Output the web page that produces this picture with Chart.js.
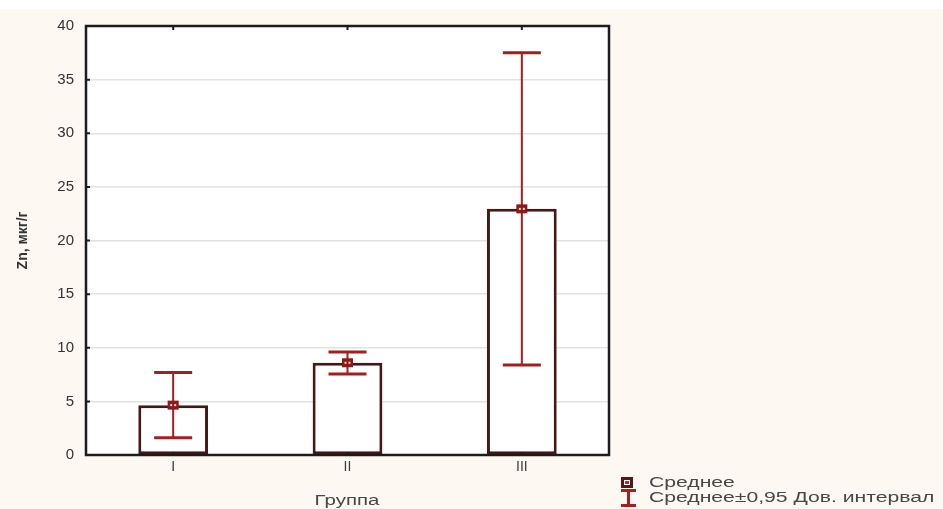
<!DOCTYPE html>
<html>
<head>
<meta charset="utf-8">
<script src="https://cdn.jsdelivr.net/npm/chart.js@4.4.1/dist/chart.umd.min.js"></script>
<style>
  html, body { margin: 0; padding: 0; background: #fdf8f1; }
  #wrap { position: relative; width: 943px; height: 509px; overflow: hidden; }
  #topband { position: absolute; left: 0; top: 0; width: 943px; height: 9px; background: #fff; }
  canvas { position: absolute; left: 0; top: 0; }
  .txt { position: absolute; font: 14px 'Liberation Sans', Arial, sans-serif; color: #474747;
         line-height: 16px; white-space: nowrap; transform-origin: left center; transform: scaleX(1.51); }
  #xtitle { left: 347px; top: 492px; transform-origin: center center; transform: translateX(-50%) scaleX(1.46); }
  .sym-mean { position: absolute; left: 621px; top: 477px; width: 12px; height: 11px; background: #5c1616; }
  .sym-mean div { position: absolute; left: 3px; top: 3px; width: 4px; height: 3px; background: #b03030; border: 1px solid #fff; }
  .sym-ci { position: absolute; left: 621px; top: 489px; width: 15px; height: 18px; }
  .sym-ci div { position: absolute; background: #a52020; }
</style>
</head>
<body>
<div id="wrap">
  <div id="topband"></div>
  <canvas id="grafico" width="943" height="509"></canvas>
  <div class="txt" id="xtitle">Группа</div>
  <div class="sym-mean"><div></div></div>
  <div class="txt" style="left:649px; top:474px;">Среднее</div>
  <div class="sym-ci">
    <div style="left:0; top:0; width:15px; height:3px;"></div>
    <div style="left:6px; top:0; width:3px; height:18px;"></div>
    <div style="left:0; bottom:0; width:15px; height:3px;"></div>
  </div>
  <div class="txt" style="left:649px; top:489px;">Среднее±0,95 Дов. интервал</div>
</div>
<script>
// Группы и значения Zn (мкг/г): среднее и границы 95% дов. интервала
const grupos = ['I', 'II', 'III'];
const medias = [4.65, 8.6, 22.95];
const icInferior = [1.6, 7.55, 8.4];
const icSuperior = [7.7, 9.6, 37.5];
const ticksY = [0, 5, 10, 15, 20, 25, 30, 35, 40];

const corBarra = '#451717';
const corErro = '#a02020';
const corMedia = '#8b1a1a';

// fundo branco da área do gráfico, barras de erro, marcadores e moldura
const molduraPlugin = {
    id: 'moldura',
    beforeDraw(chart) {
        const { ctx, chartArea: a } = chart;
        ctx.save();
        ctx.fillStyle = '#fff';
        ctx.fillRect(a.left, a.top, a.width, a.height);
        ctx.restore();
    },
    afterDatasetsDraw(chart) {
        const { ctx } = chart;
        const x = chart.scales.x, y = chart.scales.y;
        ctx.save();
        grupos.forEach((g, i) => {
            const px = x.getPixelForValue(i);
            const yLo = y.getPixelForValue(icInferior[i]);
            const yHi = y.getPixelForValue(icSuperior[i]);
            const yM = y.getPixelForValue(medias[i]);
            ctx.strokeStyle = corErro;
            ctx.lineWidth = 2;
            ctx.beginPath();
            ctx.moveTo(px, yLo);
            ctx.lineTo(px, yHi);
            ctx.stroke();
            ctx.lineWidth = 3;
            ctx.beginPath();
            ctx.moveTo(px - 19, yHi); ctx.lineTo(px + 19, yHi);
            ctx.moveTo(px - 19, yLo); ctx.lineTo(px + 19, yLo);
            ctx.stroke();
            ctx.fillStyle = corMedia;
            ctx.fillRect(px - 5.5, yM - 4.5, 11, 9);
            ctx.fillStyle = '#f3d6d6';
            ctx.fillRect(px - 3, yM - 1, 2, 2);
            ctx.fillRect(px + 1, yM - 1, 2, 2);
        });
        ctx.restore();
    },
    afterDraw(chart) {
        const { ctx, chartArea: a } = chart;
        const x = chart.scales.x, y = chart.scales.y;
        ctx.save();
        ctx.strokeStyle = '#1c1c1c';
        ctx.lineWidth = 2;
        ctx.beginPath();
        ticksY.forEach(v => {
            const py = y.getPixelForValue(v);
            ctx.moveTo(a.left, py); ctx.lineTo(a.left + 4, py);
        });
        grupos.forEach((g, i) => {
            const px = x.getPixelForValue(i);
            ctx.moveTo(px, a.bottom); ctx.lineTo(px, a.bottom - 3);
            ctx.moveTo(px, a.top); ctx.lineTo(px, a.top + 4);
        });
        ctx.stroke();
        ctx.lineWidth = 2.5;
        ctx.strokeRect(a.left, a.top, a.width, a.height);
        ctx.restore();
    }
};

const fonteEixo = { family: "'Liberation Sans', Arial, sans-serif", size: 15 };

new Chart(document.getElementById('grafico').getContext('2d'), {
    type: 'bar',
    data: {
        labels: grupos,
        datasets: [{
            label: 'Среднее',
            data: medias,
            backgroundColor: '#fff',
            borderColor: corBarra,
            borderWidth: 3,
            borderSkipped: false,
            barPercentage: 0.4,
            categoryPercentage: 1
        }]
    },
    options: {
        responsive: false,
        animation: false,
        layout: { padding: { left: 15, top: 26, right: 334, bottom: 0 } },
        plugins: {
            legend: { display: false },
            tooltip: { enabled: false }
        },
        scales: {
            x: {
                grid: { display: false, drawTicks: false },
                border: { display: false },
                ticks: { color: '#3a3a3a', font: { family: "'Liberation Sans', Arial, sans-serif", size: 14 }, padding: 4 },
                afterFit(s) { s.height = 54; }
            },
            y: {
                min: 0,
                max: 40,
                afterBuildTicks(s) { s.ticks = ticksY.map(v => ({ value: v })); },
                grid: { color: '#e2e2e2', lineWidth: 1.5, drawTicks: false },
                border: { display: false },
                ticks: { color: '#333', font: fonteEixo, padding: 12 },
                title: {
                    display: true,
                    text: 'Zn, мкг/г',
                    color: '#333',
                    font: { family: "'Liberation Sans', Arial, sans-serif", size: 14, weight: 'bold' },
                    padding: 0
                },
                afterFit(s) { s.width = 71; }
            }
        }
    },
    plugins: [molduraPlugin]
});
</script>
</body>
</html>
